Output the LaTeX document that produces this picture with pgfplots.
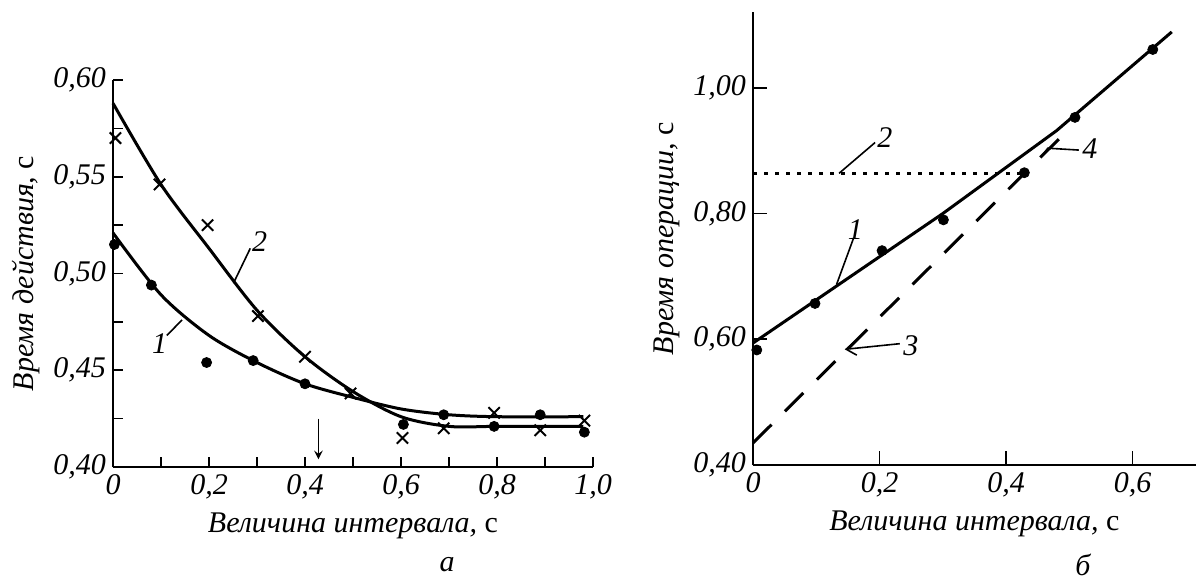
\documentclass[border=0pt]{standalone}
\usepackage{fontspec}
\setmainfont{Liberation Serif}
\usepackage{pgfplots}
\pgfplotsset{compat=1.18}
\usetikzlibrary{arrows.meta}
\newcommand\lbl{\itshape\fontsize{15}{18}\selectfont}

\begin{document}
\begin{tikzpicture}
\useasboundingbox (0pt,0pt) rectangle (599pt,-292pt);
\pgfplotsset{
  every axis/.append style={
    scale only axis, axis lines=left, axis line style={-, line width=1pt},
    tick style={black, line width=0.8pt}, tick align=inside,
    tick label style={font=\lbl}, label style={font=\lbl}, clip=false,
  },
}

% panel a
\begin{axis}[
  at={(56.5pt,-233.5pt)}, anchor=south west,
  width=240pt, height=193.5pt,
  xmin=0, xmax=1, ymin=0.4, ymax=0.6,
  xtick={0,0.1,0.2,0.3,0.4,0.5,0.6,0.7,0.8,0.9,1.0},
  xticklabels={0,,{0,2},,{0,4},,{0,6},,{0,8},,{1,0}},
  ytick={0.4,0.45,0.5,0.55,0.6},
  yticklabels={{0,40},{0,45},{0,50},{0,55},{0,60}},
  minor ytick={0.425,0.475,0.525,0.575},
  major tick length=5pt, minor tick length=5pt,
  xlabel={Величина интервала, {\upshape с}},
  ylabel={Время действия, {\upshape с}},
]
% curve 2
\addplot[smooth, line width=1.5pt] coordinates {
  (0,0.588) (0.1,0.546) (0.2,0.513) (0.3,0.481) (0.4,0.457)
  (0.5,0.439) (0.6,0.426) (0.7,0.421) (0.8,0.421) (0.98,0.421)};
% curve 1
\addplot[smooth, line width=1.5pt] coordinates {
  (0,0.521) (0.1,0.489) (0.2,0.468) (0.3,0.454) (0.4,0.443)
  (0.5,0.436) (0.6,0.430) (0.7,0.427) (0.8,0.426) (0.98,0.426)};
\addplot[only marks, mark=x, mark size=4pt, line width=1pt] coordinates {
  (0.005,0.570) (0.097,0.546) (0.197,0.525) (0.302,0.478) (0.40,0.457)
  (0.495,0.438) (0.603,0.415) (0.689,0.420) (0.794,0.428) (0.89,0.419) (0.982,0.424)};
\addplot[only marks, mark=*, mark size=2.5pt] coordinates {
  (0.003,0.515) (0.08,0.494) (0.195,0.454) (0.292,0.455) (0.40,0.443)
  (0.605,0.422) (0.689,0.427) (0.794,0.421) (0.89,0.427) (0.982,0.418)};
% labels and arrow
\draw[line width=0.8pt] (axis cs:0.251,0.495) -- (axis cs:0.286,0.513);
\node[font=\lbl, anchor=south west, inner sep=1pt] at (axis cs:0.285,0.510) {2};
\draw[line width=0.8pt] (axis cs:0.112,0.468) -- (axis cs:0.144,0.476);
\node[font=\lbl, anchor=north east, inner sep=1pt] at (axis cs:0.118,0.470) {1};
\draw[-stealth, line width=0.9pt] (axis cs:0.428,0.425) -- (axis cs:0.428,0.404);
\end{axis}

% panel b
\begin{axis}[
  at={(376.5pt,-232.5pt)}, anchor=south west,
  width=221.4pt, height=226.3pt,
  xmin=0, xmax=0.7, ymin=0.4, ymax=1.12,
  xtick={0,0.2,0.4,0.6},
  xticklabels={0,{0,2},{0,4},{0,6}},
  ytick={0.4,0.6,0.8,1.0},
  yticklabels={{0,40},{0,60},{0,80},{1,00}},
  major tick length=7pt,
  xlabel={Величина интервала, {\upshape с}},
  ylabel={Время операции, {\upshape с}},
]
\addplot[line width=1.5pt] coordinates {(0,0.594) (0.30,0.800) (0.48,0.932) (0.662,1.089)};
\addplot[line width=1.8pt, dash pattern=on 1.8pt off 3.7pt] coordinates {(0,0.864) (0.43,0.864)};
\addplot[line width=1.5pt, dash pattern=on 13pt off 9.5pt] coordinates {(0,0.435) (0.49,0.925)};
\addplot[only marks, mark=*, mark size=2.5pt] coordinates {
  (0.006,0.583) (0.098,0.657) (0.204,0.741) (0.301,0.790)
  (0.429,0.865) (0.509,0.953) (0.632,1.061)};
\draw[line width=0.8pt] (axis cs:0.136,0.864) -- (axis cs:0.193,0.913);
\node[font=\lbl, anchor=west, inner sep=1pt] at (axis cs:0.193,0.921) {2};
\draw[line width=0.8pt] (axis cs:0.132,0.687) -- (axis cs:0.159,0.761);
\node[font=\lbl, anchor=south, inner sep=1pt] at (axis cs:0.162,0.755) {1};
\draw[{Straight Barb[length=5pt,width=7pt]}-, line width=0.8pt] (axis cs:0.145,0.584) -- (axis cs:0.232,0.593);
\node[font=\lbl, anchor=west, inner sep=1pt] at (axis cs:0.234,0.589) {3};
\draw[line width=0.8pt] (axis cs:0.458,0.893) -- (axis cs:0.466,0.904) -- (axis cs:0.515,0.901);
\node[font=\lbl, anchor=west, inner sep=1pt] at (axis cs:0.517,0.903) {4};
\end{axis}

\node[font=\lbl] at (223.5pt,-282.5pt) {а};
\node[font=\lbl] at (541.5pt,-282.5pt) {б};
\end{tikzpicture}
\end{document}
